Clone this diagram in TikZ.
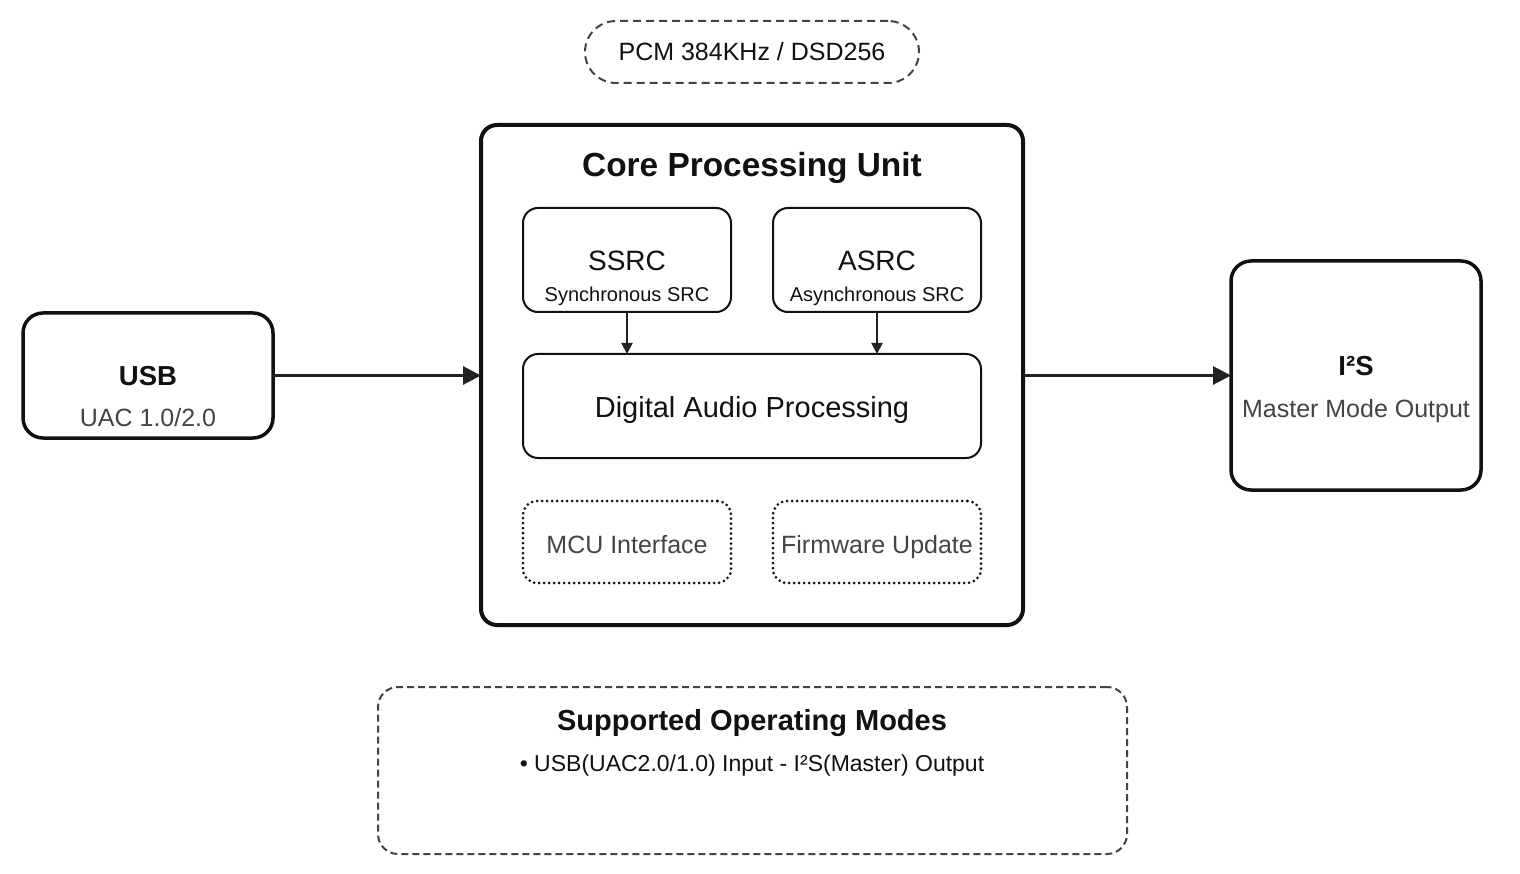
\documentclass[tikz,border=0pt]{standalone}
\usepackage{fontspec}
\setmainfont{Liberation Sans}
\usetikzlibrary{arrows.meta}
\definecolor{ink}{HTML}{111111}
\definecolor{sub}{HTML}{444444}
\definecolor{arr}{HTML}{222222}
\newcommand{\fs}[1]{\fontsize{#1}{#1}\selectfont}
\tikzset{
  box/.style={draw=ink, rectangle, rounded corners=#1, inner sep=0pt, outer sep=0pt},
  dotbox/.style={box=14pt, line width=3pt, draw=ink, line cap=round, dash pattern=on 0pt off 5pt, minimum width=208pt, minimum height=82pt},
  txt/.style={anchor=base, inner sep=0pt, text=ink},
  subtxt/.style={anchor=base, inner sep=0pt, text=sub},
  bigarrow/.style={draw=arr, line width=3pt, -{Triangle[length=18pt,width=18pt]}},
  smallarrow/.style={draw=arr, line width=2pt, -{Triangle[length=11pt,width=11pt]}},
}
\begin{document}
\begin{tikzpicture}[x=1pt,y=-1pt]
\useasboundingbox[fill=white] (0,0) rectangle (1520,874);

% top badge
\node[box=31pt, line width=2pt, draw=sub, dash pattern=on 8pt off 5pt, minimum width=334pt, minimum height=62pt] (pcm) at (752,52) {};
\node[txt, text=ink] (pcmt) at (752,61) {\fs{25}PCM 384KHz / DSD256};

% core
\node[box=16pt, line width=4pt, minimum width=542pt, minimum height=500pt] (core) at (752,375) {};
\node[txt] (coret) at (752,177) {\fs{33.4}\bfseries Core Processing Unit};

\node[box=15pt, line width=2pt, minimum width=208pt, minimum height=104pt] (ssrc) at (627,260) {};
\node[txt] (ssrct) at (627,271) {\fs{28}SSRC};
\node[txt] (ssrcs) at (627,302) {\fs{20}Synchronous SRC};

\node[box=15pt, line width=2pt, minimum width=208pt, minimum height=104pt] (asrc) at (877,260) {};
\node[txt] (asrct) at (877,271) {\fs{28}ASRC};
\node[txt] (asrcs) at (877,302) {\fs{20}Asynchronous SRC};

\node[box=15pt, line width=2pt, minimum width=458pt, minimum height=104pt] (dap) at (752,406) {};
\node[txt] (dapt) at (752,417) {\fs{29}Digital Audio Processing};

\node[dotbox] (mcu) at (627,542) {};
\node[subtxt] (mcut) at (627,553) {\fs{25}MCU Interface};

\node[dotbox] (fw) at (877,542) {};
\node[subtxt] (fwt) at (877,553) {\fs{25}Firmware Update};

\draw[smallarrow] (ssrc.south) -- (ssrc.south |- dap.north);
\draw[smallarrow] (asrc.south) -- (asrc.south |- dap.north);

% USB
\node[box=20pt, line width=3.5pt, minimum width=250pt, minimum height=125pt] (usb) at (148,375.5) {};
\node[txt] (usbt) at (148,385) {\fs{27.5}\bfseries USB};
\node[subtxt] (usbs) at (148,426) {\fs{25}UAC 1.0/2.0};

% I2S
\node[box=20pt, line width=3.5pt, minimum width=250pt, minimum height=229pt] (i2s) at (1356,375.5) {};
\node[txt] (i2st) at (1356,375) {\fs{27.5}\bfseries I²S};
\node[subtxt] (i2ss) at (1356,417) {\fs{25}Master Mode Output};

\draw[bigarrow] (usb.east) -- (usb.east -| core.west);
\draw[bigarrow] (core.east |- i2s.west) -- (i2s.west);

% modes
\node[box=20pt, line width=2pt, draw=sub, dash pattern=on 7pt off 4pt, minimum width=749pt, minimum height=167pt] (modes) at (752.5,770.5) {};
\node[txt] (modest) at (752,730) {\fs{29}\bfseries Supported Operating Modes};
\node[txt] (modesi) at (752,771) {\fs{23}• USB(UAC2.0/1.0) Input - I²S(Master) Output};
\end{tikzpicture}
\end{document}
